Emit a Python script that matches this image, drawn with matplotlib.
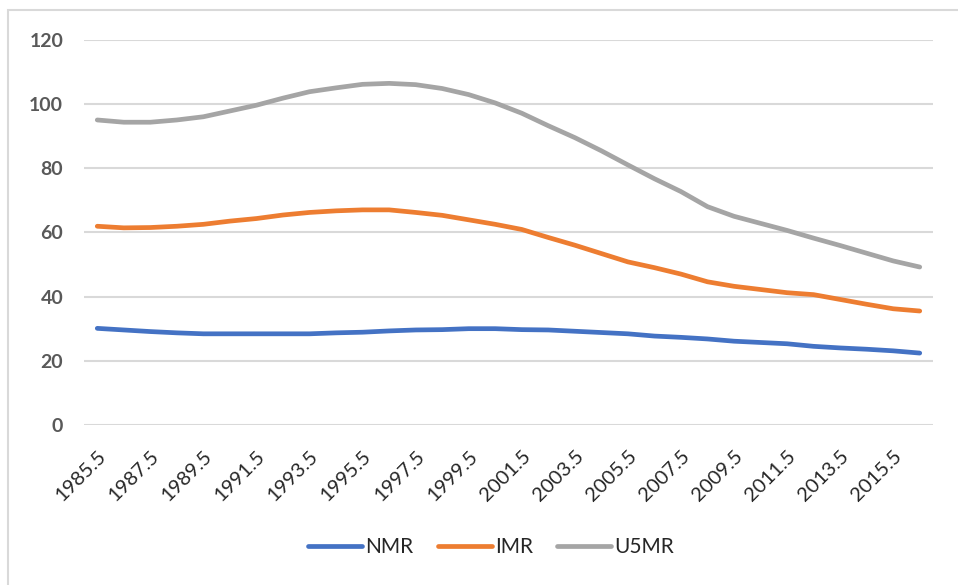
import matplotlib
matplotlib.use("Agg")
import matplotlib.pyplot as plt
from matplotlib.patches import Rectangle

years = [1985.5 + i for i in range(32)]
nmr = [30.1, 29.6, 29.1, 28.7, 28.4, 28.4, 28.4, 28.4, 28.4, 28.7, 28.9, 29.3,
       29.6, 29.7, 30.0, 30.0, 29.7, 29.6, 29.2, 28.8, 28.4, 27.7, 27.3, 26.8,
       26.1, 25.7, 25.3, 24.5, 24.0, 23.6, 23.1, 22.4]
imr = [61.9, 61.4, 61.5, 61.9, 62.5, 63.5, 64.3, 65.4, 66.2, 66.7, 67.0, 67.0,
       66.2, 65.3, 63.9, 62.5, 60.9, 58.4, 56.0, 53.4, 50.8, 49.0, 47.0, 44.6,
       43.2, 42.2, 41.2, 40.6, 39.1, 37.6, 36.2, 35.5]
u5mr = [95.0, 94.3, 94.3, 95.0, 96.0, 97.8, 99.6, 101.8, 103.8, 105.0, 106.1, 106.4,
        106.0, 104.8, 102.9, 100.3, 97.1, 93.2, 89.5, 85.4, 81.0, 76.7, 72.7, 68.0,
        65.0, 62.8, 60.6, 58.2, 55.9, 53.5, 51.1, 49.2]
series_names = ["NMR", "IMR", "U5MR"]
colors = ["#4472C4", "#ED7D31", "#A5A5A5"]
y_ticks = [0, 20, 40, 60, 80, 100, 120]

plt.rcParams['font.family'] = ['Lato', 'DejaVu Sans']

W, H = 958, 585
fig = plt.figure(figsize=(W / 100, H / 100), dpi=100)
fig.patches.append(Rectangle((8 / W, -0.1), 1.2, 1 - 10 / H + 0.1, transform=fig.transFigure,
                             fill=False, edgecolor="#D9D9D9", linewidth=1.5, zorder=0))

ax = fig.add_axes([84 / W, 1 - 425 / H, (933 - 84) / W, (425 - 39.7) / H])
idx = list(range(len(years)))
for vals, name, c in zip([nmr, imr, u5mr], series_names, colors):
    ax.plot(idx, vals, color=c, linewidth=3.4, label=name,
            solid_capstyle="round", solid_joinstyle="round", zorder=3)

ax.set_xlim(-0.5, len(years) - 0.5)
ax.set_ylim(0, 120)
ax.set_yticks(y_ticks)
ax.set_yticklabels([str(v) for v in y_ticks], fontsize=14, fontweight="bold", color="#595959")
ax.yaxis.grid(True, color="#D9D9D9", linewidth=1.5, zorder=0)
ax.set_axisbelow(True)
for s in ax.spines.values():
    s.set_visible(False)
ax.tick_params(axis="y", length=0, pad=15)

tick_idx = idx[::2]
ax.set_xticks(tick_idx)
ax.set_xticklabels([f"{years[i]:.1f}" for i in tick_idx], rotation=45, ha="right",
                   rotation_mode="anchor", fontsize=14.5, color="#262626")
ax.tick_params(axis="x", length=0, pad=16)

handles, labels = ax.get_legend_handles_labels()
leg = fig.legend(handles, labels, loc="center", bbox_to_anchor=(491 / W, 1 - 547 / H),
                 ncol=3, frameon=False, fontsize=15, handlelength=2.6, handletextpad=0.15,
                 columnspacing=1.15, labelcolor="#262626")

fig.savefig("out.png", dpi=100)
